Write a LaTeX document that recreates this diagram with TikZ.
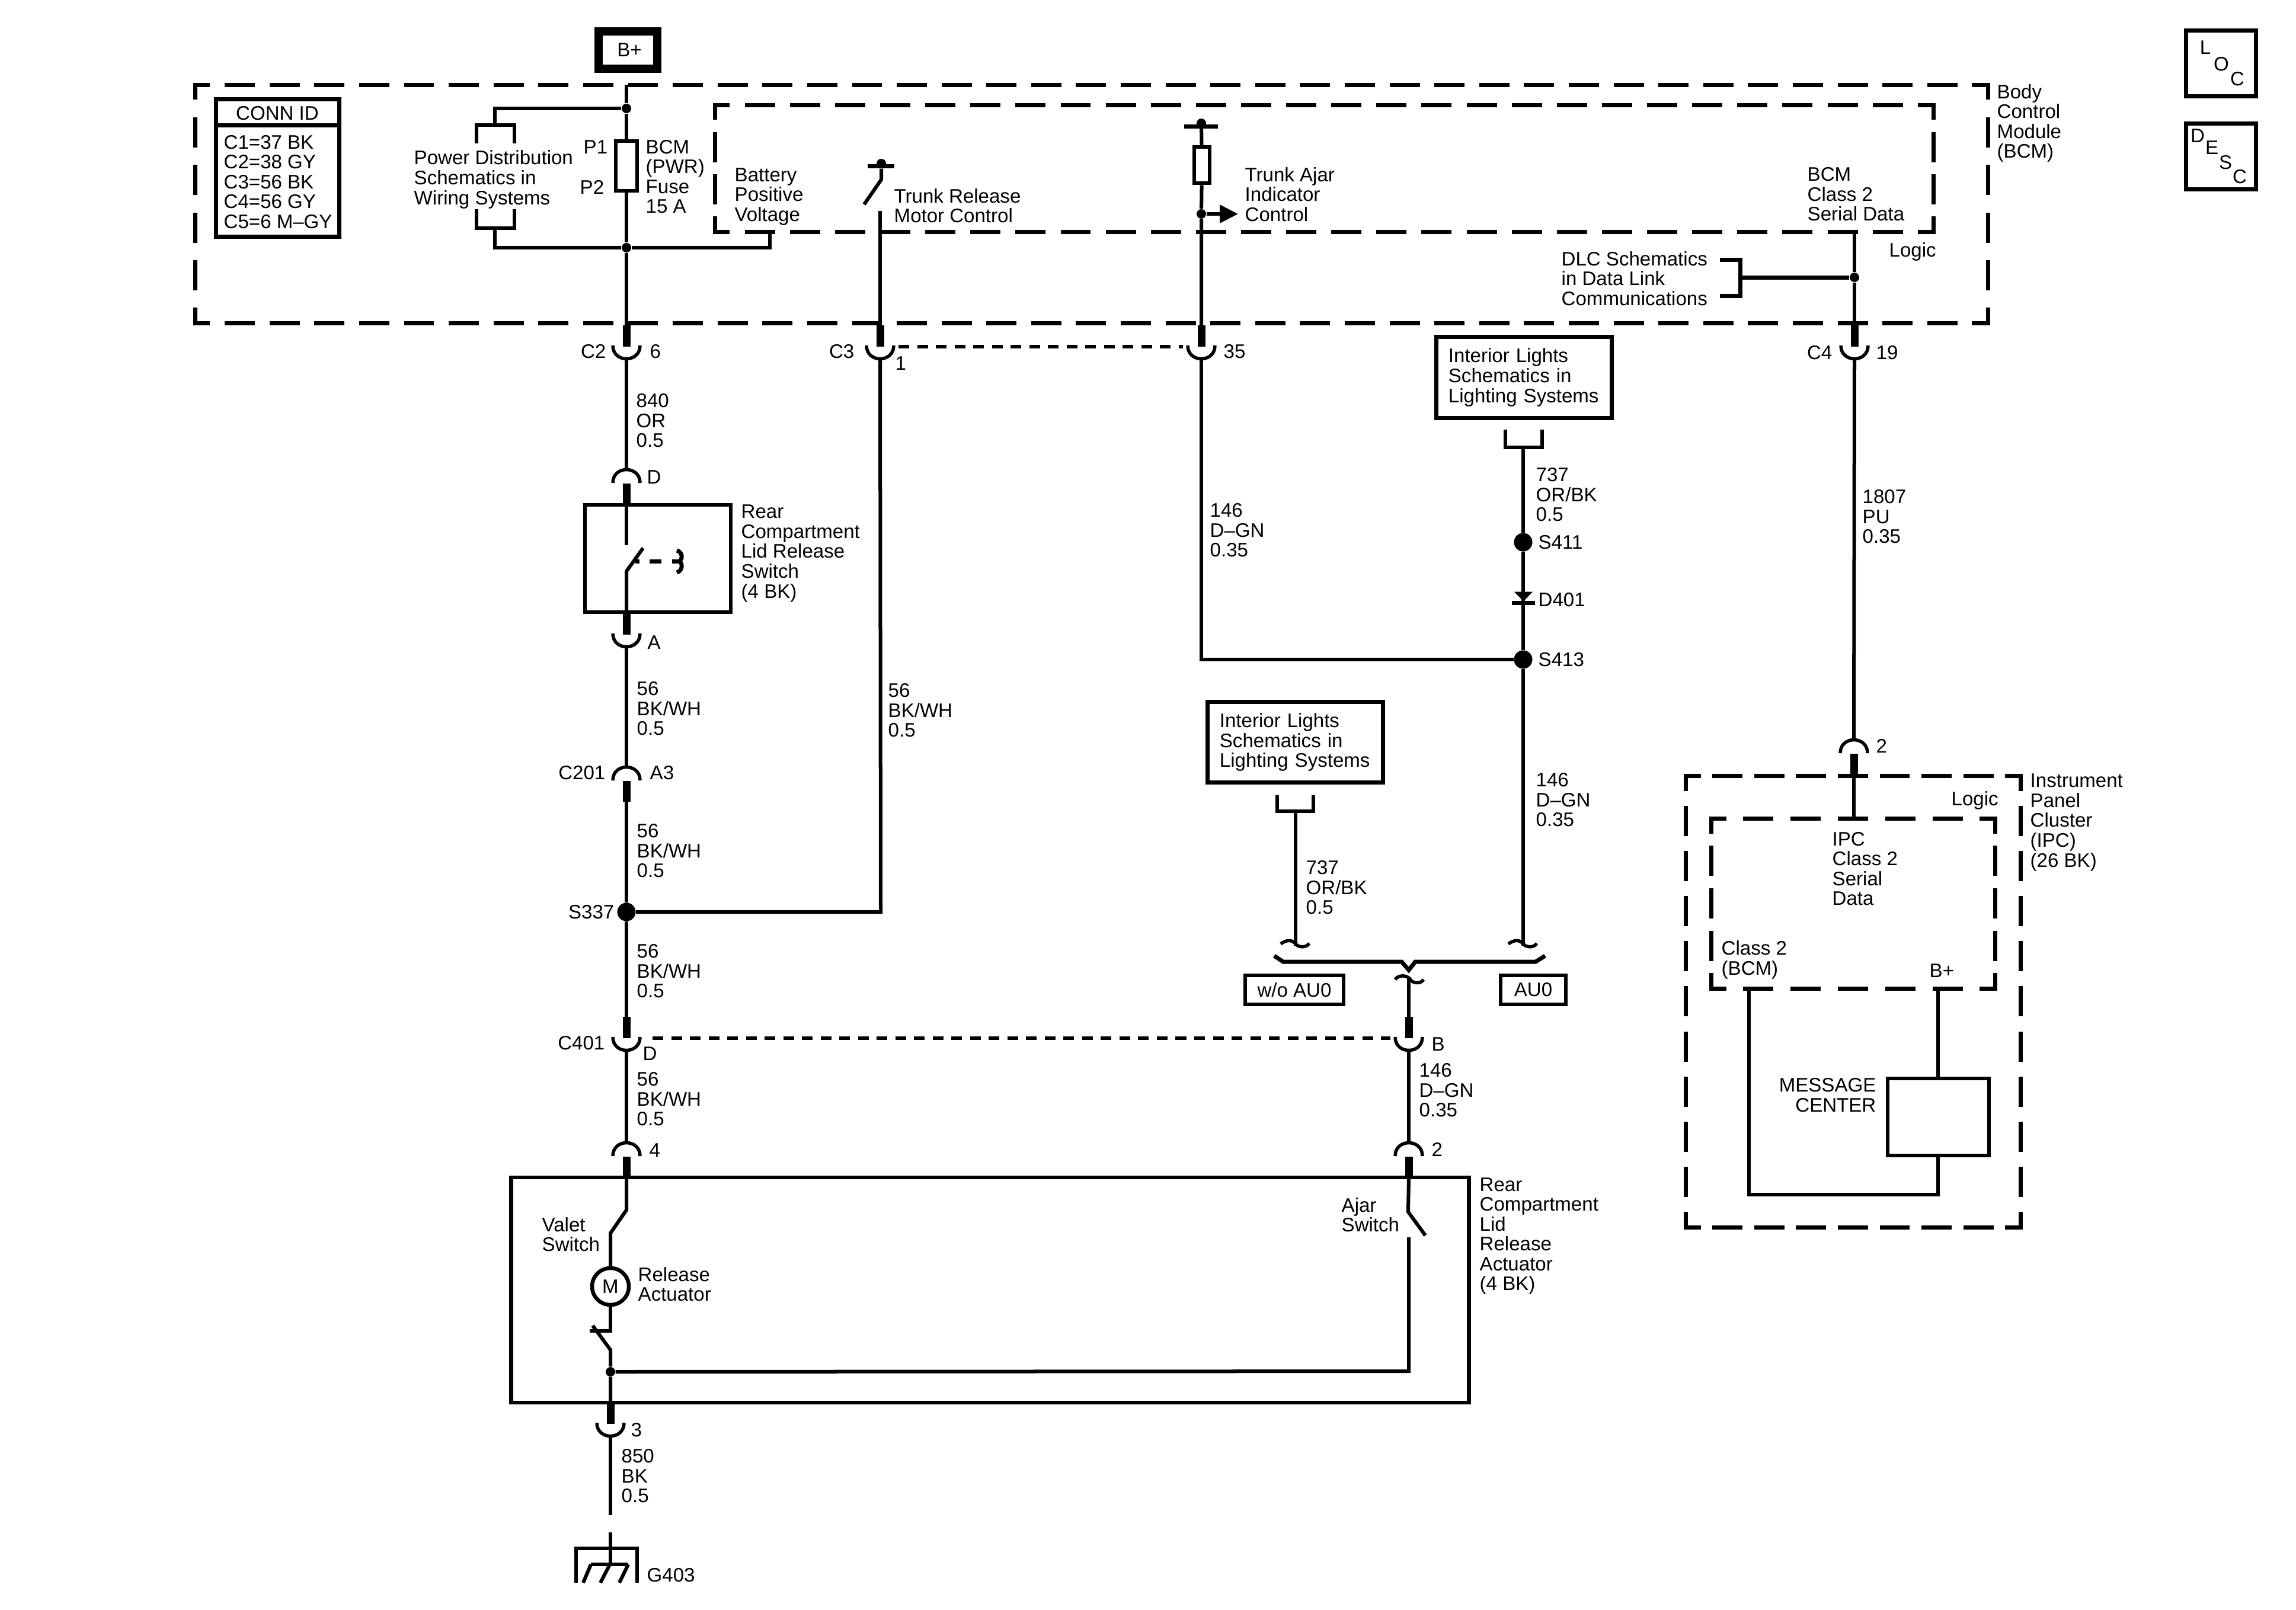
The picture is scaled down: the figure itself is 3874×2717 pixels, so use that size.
\documentclass[tikz,border=0pt]{standalone}
\usepackage{fontspec}
\setmainfont{Liberation Sans}
\usetikzlibrary{arrows.meta}

\begin{document}
\begin{tikzpicture}[
  x=0.01cm,y=-0.01cm,
  wire/.style={line width=0.06cm},
  heavy/.style={line width=0.07cm},
  stub/.style={line width=0.13cm},
  pinline/.style={line width=0.055cm},
  frame/.style={line width=0.07cm,line cap=rect},
  hlink/.style={line width=0.06cm,dash pattern=on 0.18cm off 0.135cm},
  lbl/.style={anchor=west,align=left,inner sep=0,font=\fontsize{9.4}{9.55}\selectfont},
  lblr/.style={lbl,anchor=east,align=right},
  letter/.style={inner sep=0,font=\fontsize{9.4}{9.55}\selectfont},
  box/.style={draw,line width=0.07cm,inner sep=0,align=center,font=\fontsize{9.4}{9.55}\selectfont},
  listbox/.style={box,minimum width=2.95cm,minimum height=1.36cm,text width=2.55cm,align=left},
  part/.style={draw,line width=0.065cm,inner sep=0,fill=white},
  splice/.style={circle,fill=black,inner sep=0,minimum size=0.31cm},
  tap/.style={circle,fill=black,inner sep=0,minimum size=0.16cm}
]

\useasboundingbox (0,0) rectangle (3874,2717);

% dashed module outline, half a dash at every corner
\def\dashframe(#1,#2)(#3,#4);{
  \foreach \xa/\ya/\xb/\yb in {#1/#2/#3/#2,#3/#2/#3/#4,#1/#4/#3/#4,#1/#2/#1/#4} {
    \pgfmathsetmacro\sidelen{abs(\xb-\xa)+abs(\yb-\ya)}
    \pgfmathsetmacro\sidegap{(\sidelen/round(\sidelen/75)-44)*0.2845}
    \draw[frame,dash pattern=on 12.5pt off \sidegap pt,dash phase=6.25pt] (\xa,\ya) -- (\xb,\yb);
  }
}
% connector, cup open to the top
\def\pinlow#1 at #2;{
  \begin{scope}[shift={#2}]
    \draw[pinline] (-23,0) .. controls (-23,30) and (23,30) .. (23,0);
    \coordinate (#1t) at (0,-34);
    \coordinate (#1b) at (0,22);
    \coordinate (#1l) at (-31,2);
    \coordinate (#1r) at (31,2);
    \draw[stub] (#1t) -- (0,2);
  \end{scope}
}
% connector, cap open to the bottom
\def\pinhigh#1 at #2;{
  \begin{scope}[shift={#2}]
    \draw[pinline] (-23,24) .. controls (-23,-6) and (23,-6) .. (23,24);
    \coordinate (#1t) at (0,0);
    \coordinate (#1b) at (0,60);
    \draw[stub] (0,25) -- (#1b);
  \end{scope}
}

% modules
\dashframe(329,143)(3354,545);
\dashframe(1206,177)(3262,391);
\dashframe(2844,1309)(3409,2071);
\dashframe(2887,1381)(3366,1668);

% LOC and DESC
\node[box,minimum width=1.18cm,minimum height=1.11cm] (loc) at (3747.5,107) {};
\node[letter] (locl) at (3721,80) {L};
\node[letter] (loco) at (3748,108) {O};
\node[letter] (locc) at (3775,133) {C};
\node[box,minimum width=1.18cm,minimum height=1.11cm] (desc) at (3747.5,264) {};
\node[letter] (descd) at (3708,229) {D};
\node[letter] (desce) at (3732,249) {E};
\node[letter] (descs) at (3755,274) {S};
\node[letter] (descc) at (3779,298) {C};

% connector id table
\node[box,minimum width=2.07cm,minimum height=2.31cm] (connid) at (468.5,283.5) {};
\coordinate (conndiv) at (468,211);
\draw[heavy] (connid.west |- conndiv) -- (connid.east |- conndiv);
\node[letter] (connhead) at (468,191) {CONN ID};
\node[lbl] (connlist) at (377,307) {C1=37 BK\\C2=38 GY\\C3=56 BK\\C4=56 GY\\C5=6 M--GY};

% pins
\pinlow c2 at (1057,583);
\pinlow c3 at (1485,583);
\pinlow cf at (2027,583);
\pinlow c4 at (3129,583);
\pinhigh swd at (1057,791);
\pinlow swa at (1057,1069);
\pinhigh cb at (1057,1293);
\pinlow cd at (1057,1750);
\pinhigh ra at (1057,1927);
\pinlow rc at (1030,2401);
\pinlow au at (2377,1750);
\pinhigh rb at (2377,1927);
\pinhigh ipc at (3128,1247);

% battery feed
\node[box,line width=0.14cm,minimum width=0.99cm,minimum height=0.63cm,text depth=0pt,xshift=0cm] (bplus) at (1059.5,84.5) {\hspace{0.05cm}B+};
\coordinate (feed) at (1057,143);
\node[tap] (jt) at (1057,183) {};
\node[part,minimum width=0.36cm,minimum height=0.84cm] (fuse) at (1057,280) {};
\node[tap] (jb) at (1057,418) {};
\coordinate (pdt) at (835,211);
\coordinate (pdb) at (835,385);
\coordinate (batt) at (1299,391);
\draw[wire] (feed) -- (jt) -- (fuse) -- (jb) -- (c2t);
\draw[wire] (jt) -| (pdt);
\draw[wire] (804,242) |- (868,211) -- (868,242);
\draw[wire] (804,353) |- (868,385) -- (868,353);
\draw[wire] (pdb) |- (jb);
\draw[wire] (jb) -| (batt);

\node[lbl] (pdtext) at (698,303) {Power Distribution\\Schematics in\\Wiring Systems};
\node[lbl] (p1) at (984,248) {P1};
\node[lbl] (p2) at (978,316) {P2};
\node[lbl] (fusetext) at (1089,298) {BCM\\(PWR)\\Fuse\\15 A};
\node[lbl] (batttext) at (1239,332) {Battery\\Positive\\Voltage};
\node[lbl] (bcmname) at (3369,208) {Body\\Control\\Module\\(BCM)};

% trunk release output
\node[tap] (reltop) at (1487,276) {};
\coordinate (relpiv) at (1487,303);
\coordinate (relfree) at (1458,345);
\coordinate (relout) at (1485,356);
\draw[heavy] (1464,280) -- (1509,280);
\draw[wire] (reltop) -- (relpiv) -- (relfree);
\draw[wire] (relout) -- (c3t);
\node[lbl] (reltext) at (1508,347) {Trunk Release\\Motor Control};

% trunk ajar input
\node[tap] (ajtop) at (2027,208) {};
\node[part,minimum width=0.26cm,minimum height=0.61cm] (ajres) at (2028,278.5) {};
\node[tap] (ajtap) at (2027,361) {};
\coordinate (ajarrow) at (2089,361);
\draw[heavy] (1998,213) -- (2055,213);
\draw[wire] (ajtop) -- (ajres) -- (ajtap) -- (cft);
\draw[wire,-{Triangle[length=0.31cm,width=0.30cm]}] (ajtap) -- (ajarrow);
\node[lbl] (ajtext) at (2100,328) {Trunk Ajar\\Indicator\\Control};

% class 2 data
\coordinate (dataout) at (3129,391);
\coordinate (dlcb) at (2936,468);
\node[tap] (dlctap) at (3129,468) {};
\draw[wire] (dataout) -- (dlctap) -- (c4t);
\draw[heavy] (2902,438) -- (2936,438) -- (2936,499) -- (2902,499);
\draw[heavy] (dlcb) -- (dlctap);
\node[lbl] (datatext) at (3049,328) {BCM\\Class 2\\Serial Data};
\node[lbl] (logica) at (3187,425) {Logic};
\node[lbl] (dlctext) at (2634,470) {DLC Schematics\\in Data Link\\Communications};

% pin names at the body control module
\node[lblr] (c2name) at (1023,593) {C2};
\node[lbl] (c2pin) at (1096,593) {6};
\node[lblr] (c3name) at (1442,593) {C3};
\node[lbl] (c3pin) at (1510,613) {1};
\node[lbl] (cfpin) at (2064,593) {35};
\node[lblr] (c4name) at (3092,595) {C4};
\node[lbl] (c4pin) at (3165,595) {19};
\draw[hlink] (c3r) -- (cfl);

% lid release switch
\node[part,fill=none,minimum width=2.46cm,minimum height=1.81cm] (lidsw) at (1110,942.5) {};
\coordinate (lidup) at (1057,920);
\coordinate (lidlo) at (1057,964);
\coordinate (lidfree) at (1085,925);
\draw[wire] (c2b) -- (swdt);
\draw[wire] (swdb) -- (lidup);
\draw[wire] (swat) -- (lidlo) -- (lidfree);
\draw[heavy] (1072,947) -- (1079,947);
\draw[heavy] (1096,947) -- (1116,947);
\draw[heavy] (1134,947) -- (1146,947);
\draw[heavy] (1142,929) .. controls (1151,931) and (1153,943) .. (1146,947) .. controls (1153,951) and (1151,964) .. (1142,966);
\node[lbl] (lidtext) at (1250,934) {Rear\\Compartment\\Lid Release\\Switch\\(4 BK)};
\node[lbl] (swdname) at (1091,805) {D};
\node[lbl] (swaname) at (1092,1084) {A};
\node[lbl] (wfa) at (1073,710) {840\\OR\\0.5};

% lid release feed, down to the actuator
\node[splice] (sa) at (1057,1539) {};
\coordinate (trunkup) at (1486,1539);
\draw[wire] (swab) -- (cbt);
\draw[wire] (cbb) -- (sa) -- (cdt);
\draw[wire] (cdb) -- (rat);
\draw[wire] (c3b) -- (trunkup) -- (sa);
\draw[hlink,shorten <=0.13cm] (cdr) -- (aul);
\node[lbl] (wfb) at (1074,1196) {56\\BK/WH\\0.5};
\node[lbl] (wfc) at (1498,1199) {56\\BK/WH\\0.5};
\node[lbl] (wfd) at (1074,1436) {56\\BK/WH\\0.5};
\node[lbl] (wfe) at (1074,1639) {56\\BK/WH\\0.5};
\node[lbl] (wff) at (1074,1855) {56\\BK/WH\\0.5};
\node[lblr] (cbname) at (1022,1304) {C201};
\node[lbl] (cbpin) at (1096,1304) {A3};
\node[lblr] (saname) at (1037,1539) {S337};
\node[lblr] (cdname) at (1021,1760) {C401};
\node[lbl] (cdpin) at (1084,1778) {D};

% interior lights branches
\node[listbox] (ilta) at (2571.5,637) {Interior Lights\\Schematics in\\Lighting Systems};
\node[listbox] (iltb) at (2185.5,1252.5) {Interior Lights\\Schematics in\\Lighting Systems};
\draw[wire] (2540,725) |- (2602,755) -- (2602,725);
\draw[wire] (2155,1342) |- (2216,1369) -- (2216,1342);
\coordinate (ila) at (2570,755);
\coordinate (ilb) at (2186,1369);
\node[splice] (sb) at (2570,915) {};
\node[splice] (sc) at (2570,1113) {};
\coordinate (ila2) at (2570,1596);
\coordinate (ilb2) at (2186,1596);
\draw[wire] (ila) -- (sb) -- (sc) -- (ila2);
\draw[wire] (ilb) -- (ilb2);
\draw[wire] (cfb) |- (sc);
\draw[fill=black,line width=0.01cm] (2556,999) -- (2585,999) -- (2570.5,1014) -- cycle;
\draw[heavy] (2551,1017) -- (2590,1017);
\foreach \wx in {2186,2570}
  \draw[pinline,shift={(\wx,1595)}] (-25,-2) .. controls (-15,-10) and (-5,-9) .. (0,-2) .. controls (5,4) and (18,5) .. (23,-3);
\draw[heavy] (2150,1613) -- (2165,1623) -- (2365,1623) -- (2377,1637) -- (2388,1623) -- (2591,1623) -- (2607,1613);
\draw[pinline,shift={(2377,1652)}] (-23,1) .. controls (-18,-7) and (-4,-7) .. (2,0) .. controls (6,8) and (20,9) .. (25,1);
\coordinate (auin) at (2377,1650);
\draw[wire] (auin) -- (aut);
\draw[wire] (aub) -- (rbt);
\node[box,line width=0.06cm,minimum width=1.66cm,minimum height=0.49cm] (noau) at (2184,1670.5) {w/o AU0};
\node[box,line width=0.06cm,minimum width=1.10cm,minimum height=0.49cm] (withau) at (2587,1670.5) {AU0};
\node[lbl] (wga) at (2041,895) {146\\D--GN\\0.35};
\node[lbl] (wgb) at (2591,835) {737\\OR/BK\\0.5};
\node[lbl] (wgc) at (2591,1350) {146\\D--GN\\0.35};
\node[lbl] (wgd) at (2203,1498) {737\\OR/BK\\0.5};
\node[lbl] (wge) at (2394,1840) {146\\D--GN\\0.35};
\node[lbl] (sbname) at (2595,915) {S411};
\node[lbl] (dname) at (2595,1012) {D401};
\node[lbl] (scname) at (2595,1113) {S413};
\node[lbl] (auname) at (2415,1762) {B};
\node[lbl] (rbname) at (2415,1940) {2};

% rear compartment lid release actuator
\node[part,fill=none,minimum width=16.15cm,minimum height=3.80cm] (actuator) at (1670.5,2177) {};
\coordinate (valp) at (1057,2042);
\coordinate (valq) at (1030,2081);
\node[part,circle,minimum size=0.62cm,font=\fontsize{9.4}{9.55}\selectfont] (motor) at (1030,2171) {M};
\coordinate (lowa) at (1030,2246);
\coordinate (lowb) at (1030,2278);
\coordinate (lowc) at (1000,2237);
\node[tap] (jact) at (1030,2315) {};
\coordinate (ajturn) at (2377,2314);
\coordinate (ajlo) at (2377,2088);
\coordinate (ajhi) at (2376,2045);
\coordinate (ajfree) at (2405,2085);
\draw[wire] (rab) -- (valp) -- (valq) -- (motor);
\draw[wire] (motor) -- (lowa) -- (995,2246);
\draw[wire] (lowc) -- (lowb) -- (jact) -- (rct);
\draw[wire] (jact) -- (ajturn) -- (ajlo);
\draw[wire] (rbb) -- (ajhi) -- (ajfree);
\node[lbl] (ranum) at (1095,1941) {4};
\node[lbl] (rcnum) at (1064,2413) {3};
\node[lbl] (valet) at (914,2083) {Valet\\Switch};
\node[lbl] (reltxt) at (1076,2167) {Release\\Actuator};
\node[lbl] (ajsw) at (2263,2050) {Ajar\\Switch};
\node[lbl] (acttext) at (2496,2086) {Rear\\Compartment\\Lid\\Release\\Actuator\\(4 BK)};

% ground
\coordinate (gnda) at (1030,2557);
\coordinate (gndb) at (1030,2586);
\coordinate (gndc) at (1030,2640);
\draw[wire] (rcb) -- (gnda);
\draw[wire] (gndb) -- (gndc);
\draw[wire] (972,2671) |- (1075,2613) -- (1075,2671);
\draw[wire] (997,2640) -- (1060,2640);
\foreach \gx/\gy in {997/984,1029/1013,1060/1045}
  \draw[wire] (\gx,2640) -- (\gy,2671);
\node[lbl] (wgnd) at (1048,2491) {850\\BK\\0.5};
\node[lbl] (gndname) at (1091,2658) {G403};

% instrument panel cluster
\coordinate (ipcin) at (3128,1381);
\coordinate (c2bcm) at (2951,1668);
\coordinate (bin) at (3270,1668);
\coordinate (msgturn) at (3270,2016);
\node[part,minimum width=1.71cm,minimum height=1.30cm] (msg) at (3270.5,1885) {};
\draw[wire] (c4b) -- (ipct);
\draw[wire] (ipcb) -- (ipcin);
\draw[wire] (bin) -- (msg.north -| bin);
\draw[wire] (c2bcm) |- (msgturn) -- (msg.south -| msgturn);
\node[lbl] (wdata) at (3142,872) {1807\\PU\\0.35};
\node[lbl] (ipcpin) at (3165,1259) {2};
\node[lbl] (logicb) at (3292,1351) {Logic};
\node[lbl] (ipctext) at (3091,1466) {IPC\\Class 2\\Serial\\Data};
\node[lbl] (ipcname) at (3425,1388) {Instrument\\Panel\\Cluster\\(IPC)\\(26 BK)};
\node[lbl] (clstwo) at (2904,1620) {Class 2\\(BCM)};
\node[lbl] (bipc) at (3255,1638) {B+};
\node[lblr] (msgtext) at (3166,1848) {MESSAGE\\CENTER};

\end{tikzpicture}
\end{document}
